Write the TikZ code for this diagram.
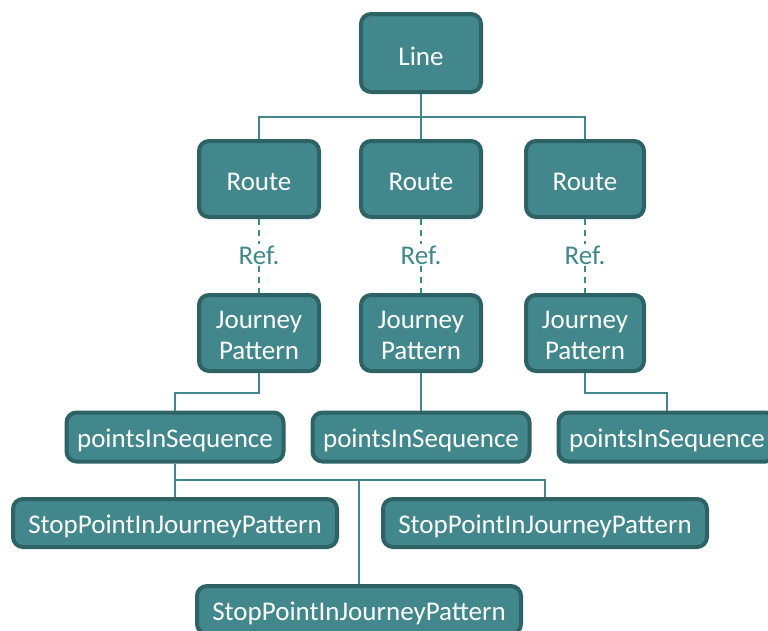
\documentclass[tikz,border=0pt]{standalone}
\usepackage{fontspec}
\setmainfont{Carlito}
\newcommand{\lowtext}[2][3pt]{\raisebox{-#1}[\height][\depth]{#2}}
\newcommand{\twolines}[2]{\lowtext[5pt]{\begin{tabular}{@{}c@{}}#1\\#2\end{tabular}}}
\begin{document}
\begin{tikzpicture}[x=1pt,y=-1pt,
  box/.style={draw=bordc, fill=fillc, line width=4pt, rounded corners=10pt,
    text=white, font=\fontsize{27}{31}\selectfont, align=center, inner sep=0pt},
  conn/.style={draw=linec, line width=1.8pt},
  refconn/.style={draw=linec, line width=1.8pt, dash pattern=on 6pt off 5pt},
  reflab/.style={text=linec, font=\fontsize{27}{31}\selectfont, inner sep=1pt}]
\definecolor{fillc}{HTML}{42878B}
\definecolor{bordc}{HTML}{2E6366}
\definecolor{linec}{HTML}{42878B}
\useasboundingbox (0,0) rectangle (768,630);
\clip (0,0) rectangle (768,630);

% top level
\node[box, minimum width=120, minimum height=78] (line) at (421,53) {\lowtext{Line}};

% routes
\node[box, minimum width=120, minimum height=76] (r1) at (259,179) {\lowtext{Route}};
\node[box, minimum width=120, minimum height=76] (r2) at (421,179) {\lowtext{Route}};
\node[box, minimum width=118, minimum height=76] (r3) at (585,179) {\lowtext{Route}};

% journey patterns
\node[box, minimum width=120, minimum height=76] (j1) at (259,333) {\twolines{Journey}{Pattern}};
\node[box, minimum width=120, minimum height=76] (j2) at (421,333) {\twolines{Journey}{Pattern}};
\node[box, minimum width=118, minimum height=76] (j3) at (585,333) {\twolines{Journey}{Pattern}};

% reference labels
\node[reflab] (f1) at (259,255) {Ref.};
\node[reflab] (f2) at (421,255) {Ref.};
\node[reflab] (f3) at (585,255) {Ref.};

% points in sequence
\node[box, minimum width=217, minimum height=49] (p1) at (175,437) {\lowtext{pointsInSequence}};
\node[box, minimum width=217, minimum height=49] (p2) at (421,437) {\lowtext{pointsInSequence}};
\node[box, minimum width=217, minimum height=49] (p3) at (667,437) {\lowtext{pointsInSequence}};

% stop points
\node[box, minimum width=324, minimum height=48] (s1) at (175,523) {\lowtext{StopPointInJourneyPattern}};
\node[box, minimum width=324, minimum height=48] (s2) at (545,523) {\lowtext{StopPointInJourneyPattern}};
\node[box, minimum width=324, minimum height=48] (s3) at (359,610) {\lowtext{StopPointInJourneyPattern}};

% connectors
\coordinate (lb) at (421,117);
\coordinate (pb) at (175,480);
\draw[conn] (line.south) -- (lb);
\draw[conn] (r1.north) |- (lb) -| (r3.north);
\draw[conn] (lb) -- (r2.north);

\draw[refconn] (r1.south) -- (f1.north);
\draw[refconn] (f1.south) -- (j1.north);
\draw[refconn] (r2.south) -- (f2.north);
\draw[refconn] (f2.south) -- (j2.north);
\draw[refconn] (r3.south) -- (f3.north);
\draw[refconn] (f3.south) -- (j3.north);

\draw[conn] (j1.south) -- ++(0,20) -| (p1.north);
\draw[conn] (j2.south) -- (p2.north);
\draw[conn] (j3.south) -- ++(0,20) -| (p3.north);

\draw[conn] (p1.south) -- (s1.north);
\draw[conn] (pb) -| (s2.north);
\draw[conn] (pb -| s3.north) -- (s3.north);
\end{tikzpicture}
\end{document}
